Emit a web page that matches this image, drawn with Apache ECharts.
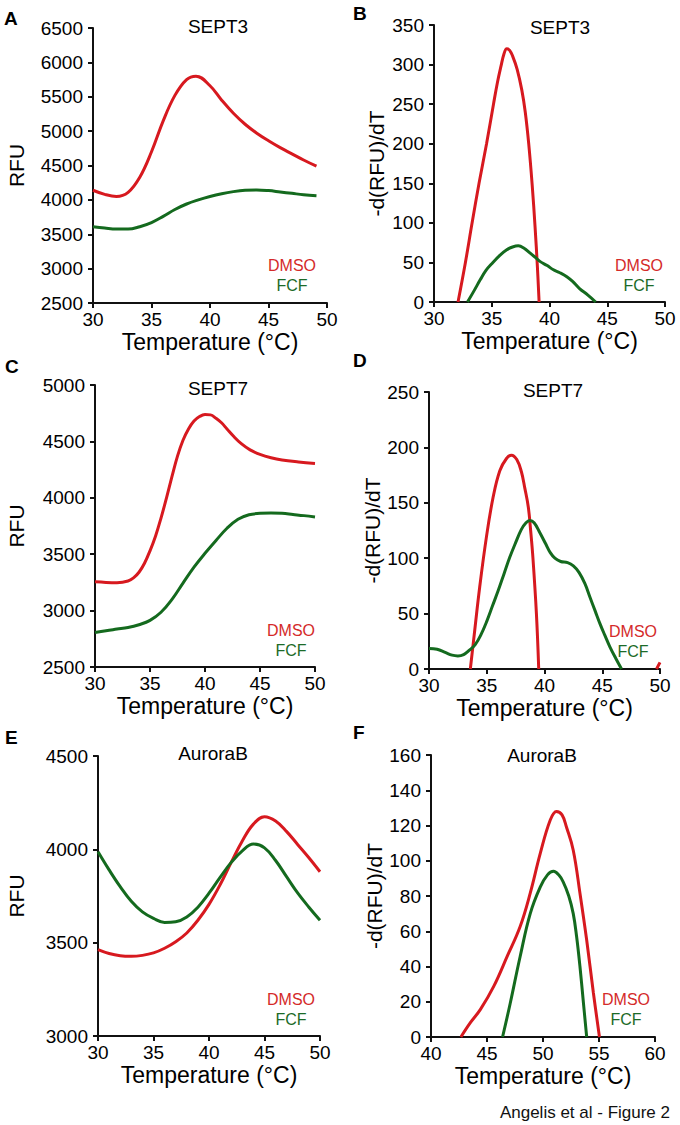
<!DOCTYPE html>
<html>
<head>
<meta charset="utf-8">
<script src="https://cdn.jsdelivr.net/npm/echarts@6/dist/echarts.min.js"></script>
<style>
html,body{margin:0;padding:0;background:#fff;}
#chart{width:680px;height:1125px;}
</style>
</head>
<body>
<div id="chart"></div>
<script>
// ---------- data ----------
const panelTitles = ['SEPT3', 'SEPT3', 'SEPT7', 'SEPT7', 'AuroraB', 'AuroraB'];
const panelLetters = ['A', 'B', 'C', 'D', 'E', 'F'];
const seriesNames = ['DMSO', 'FCF'];
const xAxisName = 'Temperature (°C)';
const yAxisNames = ['RFU', '-d(RFU)/dT', 'RFU', '-d(RFU)/dT', 'RFU', '-d(RFU)/dT'];
const xRanges = [[30, 50], [30, 50], [30, 50], [30, 50], [30, 50], [40, 60]];
const yRanges = [[2500, 6500, 500], [0, 350, 50], [2500, 5000, 500], [0, 250, 50], [3000, 4500, 500], [0, 160, 20]];
const footer = 'Angelis et al - Figure 2';

// Panel A: SEPT3 melt curve
const A_DMSO = [[30,4140],[31,4080],[32,4050],[33,4110],[34,4330],[35,4700],[36,5150],[37,5520],[38,5750],[38.8,5800],[40,5660],[41,5450],[42,5260],[43,5100],[44,4970],[45,4860],[46,4760],[47,4670],[48,4580],[49.1,4490]];
const A_FCF = [[30,3610],[31,3590],[32,3575],[33,3575],[34,3610],[35,3670],[36,3760],[37,3860],[38,3940],[39,4000],[40,4050],[41,4090],[42,4120],[43,4140],[44,4145],[45,4135],[46,4115],[47,4095],[48,4075],[49.1,4060]];
// Panel B: SEPT3 derivative
const B_DMSO = [[32.08,0],[32.72,50],[33.3,100],[33.9,150],[34.55,200],[35.15,250],[35.5,278],[35.8,298],[36.05,313],[36.3,320],[36.55,318],[36.8,311],[37.2,294],[37.6,268],[37.9,240],[38.2,200],[38.5,148],[38.75,95],[38.95,45],[39.1,0]];
const B_FCF = [[32.9,0],[33.5,15],[34,28],[34.5,40],[35.1,50],[35.7,59],[36.3,66],[36.8,69.5],[37.3,71],[37.8,68],[38.3,62],[38.8,56],[39.2,51],[39.8,46],[40.3,41],[40.9,37],[41.5,32],[42,26],[42.6,17],[43.3,9],[44,0]];
// Panel C: SEPT7 melt curve
const C_DMSO = [[30,3255],[31,3250],[32,3248],[33,3262],[33.5,3290],[34,3340],[34.5,3420],[35,3530],[35.5,3660],[36,3820],[36.5,4000],[37,4190],[37.5,4370],[38,4510],[38.5,4610],[39,4680],[39.5,4720],[40,4738],[40.5,4735],[41,4705],[41.5,4665],[42,4610],[42.6,4545],[43.3,4480],[44.1,4425],[45,4385],[46,4355],[47,4335],[48.5,4318],[50,4305]];
const C_FCF = [[30,2805],[31,2822],[32,2836],[33,2850],[34,2875],[35,2913],[36,2985],[37,3100],[38,3244],[39,3385],[40,3508],[41,3622],[42,3730],[43,3810],[44,3850],[45,3862],[46,3866],[47,3862],[48,3852],[49,3842],[50,3830]];
// Panel D: SEPT7 derivative
const D_DMSO = [[33.58,0],[33.96,35],[34.39,74],[34.97,119],[35.55,155],[36.13,179],[36.71,190],[37.14,193],[37.6,189],[38.0,178],[38.3,163],[38.6,146],[38.8,125],[39.0,100],[39.3,50],[39.5,0],'-',[49.7,0],[50,6]];
const D_FCF = [[30,18.5],[30.7,17.8],[31.4,15],[32,12.5],[32.5,11.8],[33,13],[33.5,17],[34,22],[34.5,31],[35,43],[35.5,57],[36,71],[36.5,86],[37,101],[37.5,114],[38,126],[38.4,132],[38.73,134],[39.1,132],[39.6,123],[40.1,113],[40.5,105],[40.9,100],[41.4,97],[42,96],[42.5,93],[43,87],[43.5,77],[43.93,65],[44.4,52],[44.8,41],[45.2,31],[45.66,20],[46.2,9],[46.67,0]];
// Panel E: AuroraB melt curve
const E_DMSO = [[30,3463],[31,3442],[32,3430],[33,3427],[34,3432],[35,3445],[36,3470],[37,3505],[38,3552],[39,3620],[40,3705],[41,3810],[42,3930],[43,4045],[44,4135],[45,4175],[46,4152],[47,4095],[48,4025],[49,3955],[50,3880]];
const E_FCF = [[30,3987],[31,3890],[32,3800],[33,3722],[34,3665],[35,3630],[36,3608],[37,3612],[38,3638],[39,3690],[40,3765],[41,3850],[42,3930],[43,3992],[44,4028],[45,4008],[46,3940],[47,3852],[48,3765],[49,3690],[50,3620]];
// Panel F: AuroraB derivative
const F_DMSO = [[42.67,0],[43.5,8],[44.4,15.5],[45.6,28.7],[46.8,45.7],[47.96,62.7],[48.86,81.6],[49.75,104],[50.64,123],[51.2,128],[51.7,126],[52.1,119],[52.7,106],[53.3,81.6],[53.9,55],[54.5,25],[55.04,0]];
const F_FCF = [[46.39,0],[47.07,19],[47.96,45.7],[48.86,70],[49.75,85],[50.4,92],[50.94,94],[51.4,92],[51.8,88],[52.3,80],[52.7,70],[53.0,57],[53.3,40],[53.6,20],[53.9,0]];

const dmsoData = [A_DMSO, B_DMSO, C_DMSO, D_DMSO, E_DMSO, F_DMSO];
const fcfData = [A_FCF, B_FCF, C_FCF, D_FCF, E_FCF, F_FCF];

// ---------- layout / style ----------
const FONT = '"Liberation Sans", Arial, Helvetica, sans-serif';
const RED = '#d7191f';
const GREEN = '#146a1e';
const grids = [
  {left: 93, top: 28, width: 234, height: 275},
  {left: 434, top: 25, width: 231, height: 277},
  {left: 95, top: 385, width: 220, height: 282},
  {left: 429, top: 392, width: 231, height: 277},
  {left: 98, top: 756, width: 222, height: 280},
  {left: 431, top: 755, width: 224, height: 282}
];
const yNameGaps = [66, 47, 68, 44, 71, 46];
const titlePos = [[218, 26], [560, 27], [218, 388], [553, 390], [213, 753], [542, 755]];
const letterPos = [[4, 18], [353, 13], [5, 366], [353, 360], [5, 737], [353, 732]];
const legendPos = [[292, 265], [639, 265], [291, 630], [633, 631], [291, 999], [626, 999]];

const axisLineStyle = {color: '#111', width: 2};

const xAxes = [], yAxes = [], series = [], graphics = [];
grids.forEach((g, i) => {
  xAxes.push({
    type: 'value', gridIndex: i, min: xRanges[i][0], max: xRanges[i][1], interval: 5,
    name: xAxisName, nameLocation: 'middle', nameGap: 27,
    nameTextStyle: {fontFamily: FONT, fontSize: 23, color: '#000'},
    axisLine: {show: true, onZero: false, lineStyle: axisLineStyle},
    axisTick: {show: true, length: 5, lineStyle: axisLineStyle},
    axisLabel: {fontFamily: FONT, fontSize: 19, color: '#000', margin: 7, showMinLabel: true, showMaxLabel: true, formatter: v => String(v)},
    splitLine: {show: false}
  });
  yAxes.push({
    type: 'value', gridIndex: i, min: yRanges[i][0], max: yRanges[i][1], interval: yRanges[i][2],
    name: yAxisNames[i], nameLocation: 'middle', nameGap: yNameGaps[i],
    nameTextStyle: {fontFamily: FONT, fontSize: 21, color: '#000'},
    axisLine: {show: true, onZero: false, lineStyle: axisLineStyle},
    axisTick: {show: true, length: 5, lineStyle: axisLineStyle},
    axisLabel: {fontFamily: FONT, fontSize: 19, color: '#000', margin: 10, showMinLabel: true, showMaxLabel: true, formatter: v => String(v)},
    splitLine: {show: false}
  });
  series.push({
    name: seriesNames[0], type: 'line', xAxisIndex: i, yAxisIndex: i, data: dmsoData[i],
    smooth: 0.4, showSymbol: false, symbol: 'none', connectNulls: false, clip: true,
    lineStyle: {color: RED, width: 3}, itemStyle: {color: RED}
  });
  series.push({
    name: seriesNames[1], type: 'line', xAxisIndex: i, yAxisIndex: i, data: fcfData[i],
    smooth: 0.4, showSymbol: false, symbol: 'none', clip: true,
    lineStyle: {color: GREEN, width: 3}, itemStyle: {color: GREEN}
  });
  graphics.push({type: 'text', x: titlePos[i][0], y: titlePos[i][1],
    style: {text: panelTitles[i], font: '19px ' + FONT, fill: '#000', align: 'center', verticalAlign: 'middle', textAlign: 'center', textVerticalAlign: 'middle'}});
  graphics.push({type: 'text', x: letterPos[i][0], y: letterPos[i][1],
    style: {text: panelLetters[i], font: 'bold 19px ' + FONT, fill: '#000', align: 'left', verticalAlign: 'middle', textAlign: 'left', textVerticalAlign: 'middle'}});
  graphics.push({type: 'text', x: legendPos[i][0], y: legendPos[i][1],
    style: {text: seriesNames[0], font: '16px ' + FONT, fill: '#d42a2a', align: 'center', verticalAlign: 'middle', textAlign: 'center', textVerticalAlign: 'middle'}});
  graphics.push({type: 'text', x: legendPos[i][0], y: legendPos[i][1] + 20,
    style: {text: seriesNames[1], font: '16px ' + FONT, fill: '#1c6b28', align: 'center', verticalAlign: 'middle', textAlign: 'center', textVerticalAlign: 'middle'}});
});
graphics.push({type: 'text', x: 670, y: 1112,
  style: {text: footer, font: '17px ' + FONT, fill: '#111', align: 'right', verticalAlign: 'middle', textAlign: 'right', textVerticalAlign: 'middle'}});

const chart = echarts.init(document.getElementById('chart'), null, {renderer: 'svg', width: 680, height: 1125});
chart.setOption({
  backgroundColor: '#fff',
  animation: false,
  grid: grids.map(g => Object.assign({containLabel: false}, g)),
  xAxis: xAxes,
  yAxis: yAxes,
  series: series,
  graphic: graphics
});
</script>
</body>
</html>
